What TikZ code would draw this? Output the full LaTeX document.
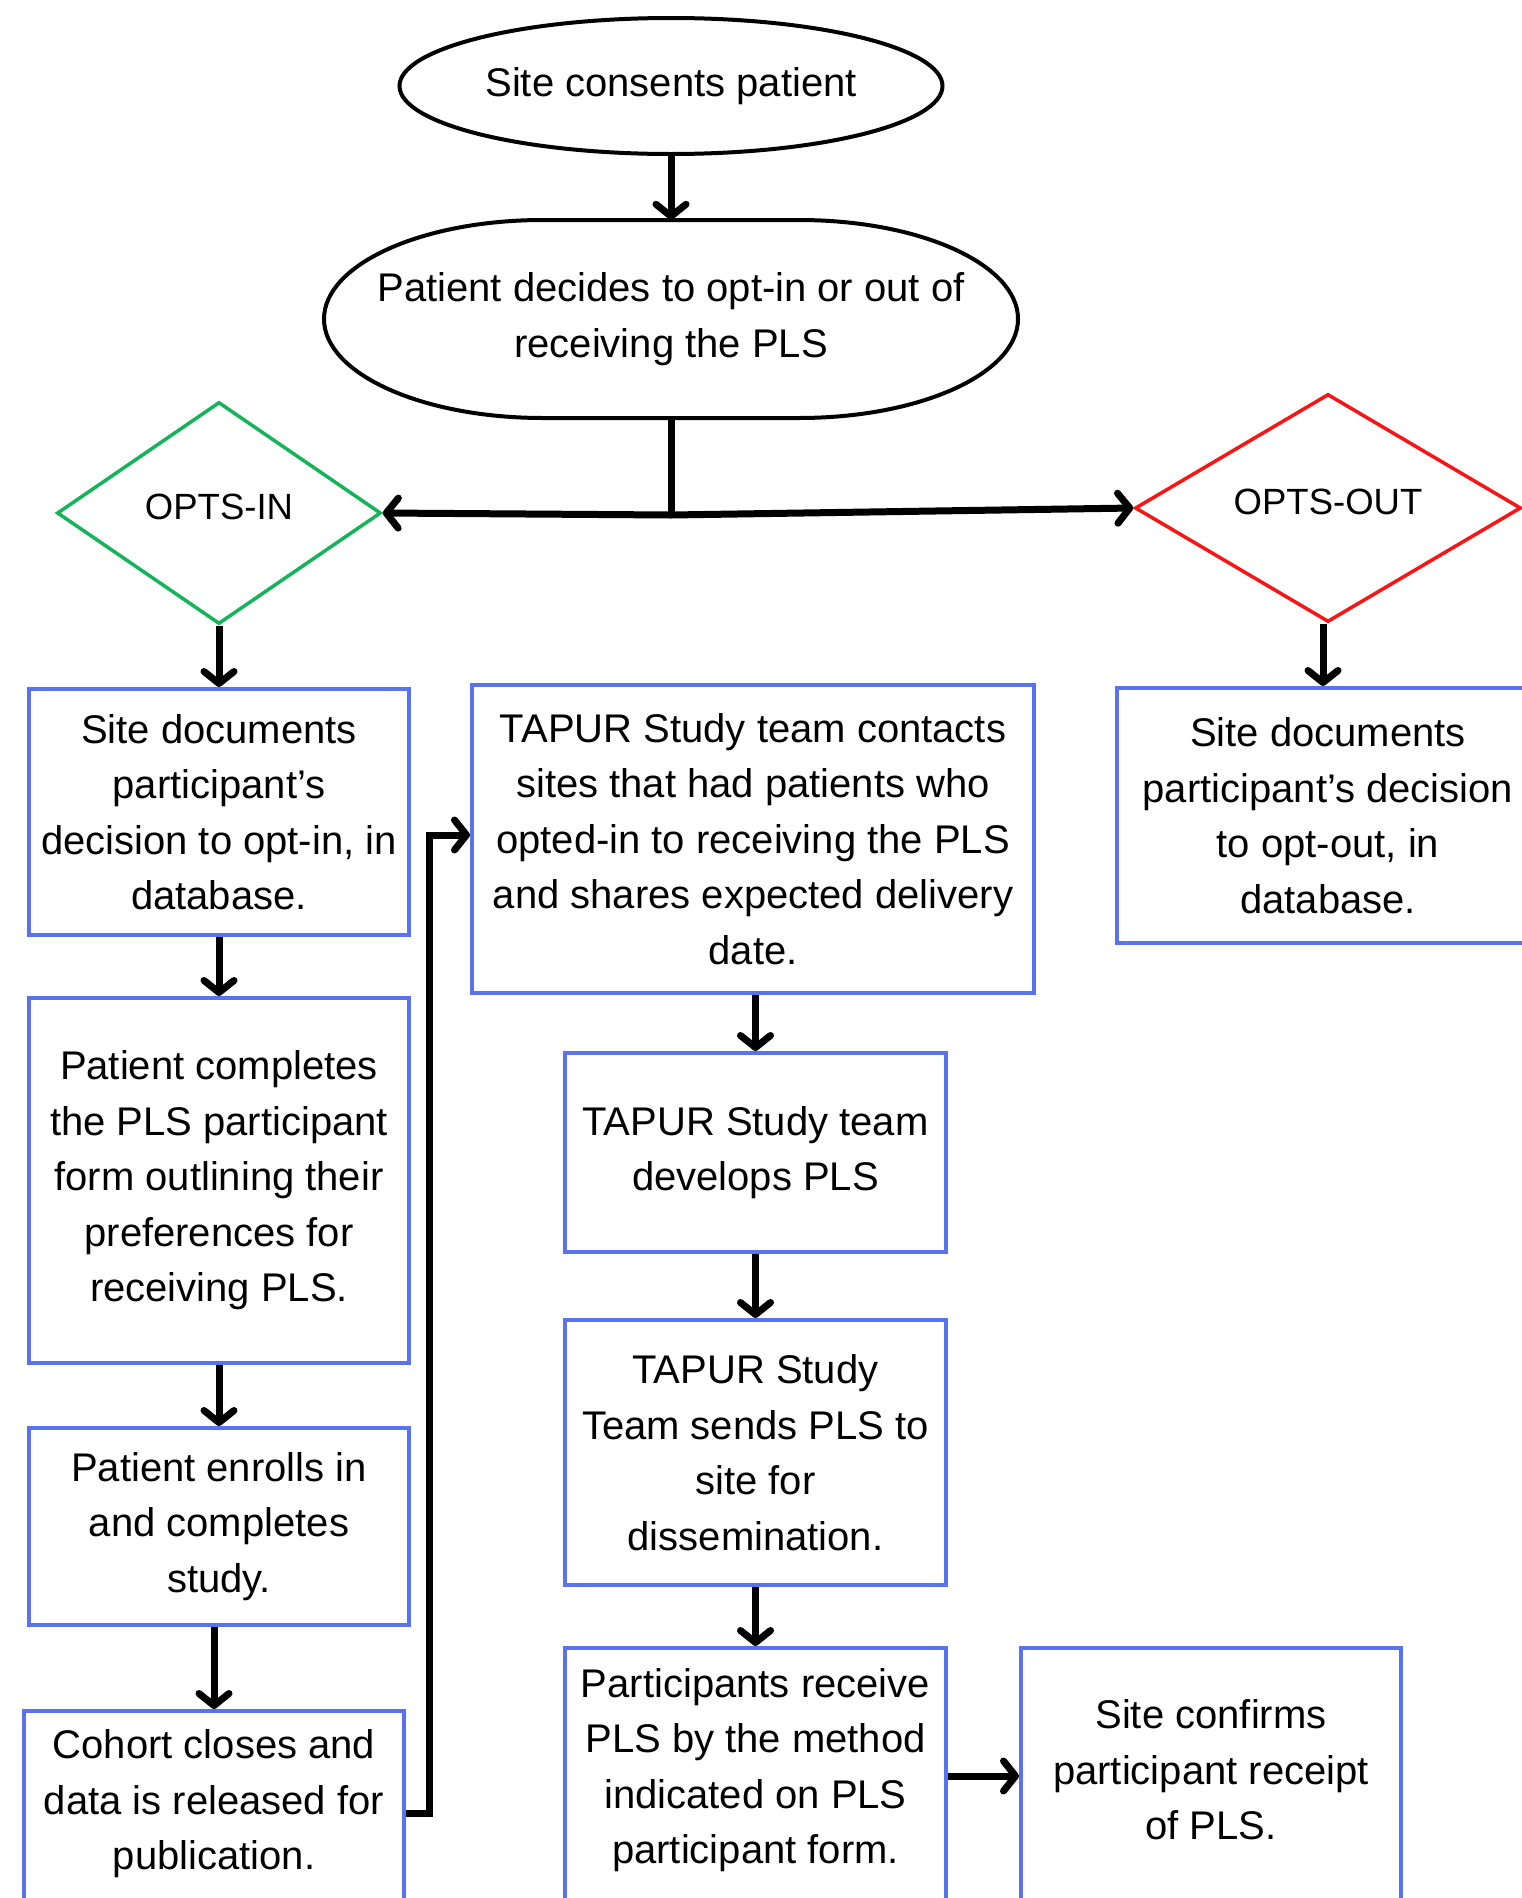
\documentclass[tikz,border=0pt]{standalone}
\usepackage{fontspec}
\setmainfont{Liberation Sans}
\usetikzlibrary{shapes.geometric,arrows.meta}
\definecolor{boxblue}{RGB}{88,114,240}
\definecolor{ingreen}{RGB}{20,180,90}
\definecolor{outred}{RGB}{250,20,20}
\begin{document}
\begin{tikzpicture}[x=1pt,y=-1pt,
  txt/.style={font=\fontsize{40}{55.5}\selectfont, align=center},
  box/.style={txt, draw=boxblue, line width=4pt, rectangle, inner sep=0pt},
  oval/.style={draw=black, line width=4pt, ellipse, inner sep=0pt},
  outline/.style={draw=black, line width=4pt},
  dec/.style={diamond, line width=3.5pt, inner sep=0pt},
  dectxt/.style={font=\fontsize{36.5}{44}\selectfont, yshift=6pt},
  arr/.style={line width=7pt, -{Straight Barb[length=12pt,width=30pt,round]}},
  trunk/.style={line width=7pt}]
\clip (0,0) rectangle (1522,1898);
\fill[white] (0,0) rectangle (1522,1898);

\node[oval, minimum width=543pt, minimum height=136pt,
  label={[txt]center:Site consents patient}] (e1) at (671,86) {};
\node[txt, rectangle, inner sep=0pt, minimum width=693pt, minimum height=198pt] (e2) at (671,319) {Patient decides to opt-in or out of\\receiving the PLS};
\draw[outline] (543,220) -- (799,220) arc[start angle=90, end angle=-90, x radius=219pt, y radius=99pt]
  -- (543,418) arc[start angle=270, end angle=90, x radius=219pt, y radius=99pt] -- cycle;

\node[dec, draw=ingreen, minimum width=324pt, minimum height=222pt,
  label={[dectxt]center:OPTS-IN}] (din) at (219,513) {};
\node[dec, draw=outred, minimum width=386pt, minimum height=228pt,
  label={[dectxt]center:OPTS-OUT}] (dout) at (1328,508) {};

\node[box, minimum width=380pt, minimum height=246pt] (b1) at (219,812) {Site documents\\participant’s\\decision to opt-in, in\\database.};
\node[box, minimum width=380pt, minimum height=365pt] (b2) at (219,1180.5) {Patient completes\\the PLS participant\\form outlining their\\preferences for\\receiving PLS.};
\node[box, minimum width=380pt, minimum height=197pt] (b3) at (219,1526.5) {Patient enrolls in\\and completes\\study.};
\node[box, minimum width=380pt, minimum height=260pt,
  label={[txt,yshift=37pt]center:{Cohort closes and\\data is released for\\publication.}}] (b4) at (214,1841) {};

\node[box, minimum width=562pt, minimum height=308pt] (b5) at (753,839) {TAPUR Study team contacts\\sites that had patients who\\opted-in to receiving the PLS\\and shares expected delivery\\date.};
\node[box, minimum width=381pt, minimum height=199pt] (b6) at (755.5,1152.5) {TAPUR Study team\\develops PLS};
\node[box, minimum width=381pt, minimum height=265pt] (b7) at (755.5,1452.5) {TAPUR Study\\Team sends PLS to\\site for\\dissemination.};
\node[box, minimum width=381pt, minimum height=260pt,
  label={[txt,yshift=8pt]center:{Participants receive\\PLS by the method\\indicated on PLS\\participant form.}}] (b8) at (755.5,1778) {};
\node[box, minimum width=380pt, minimum height=260pt,
  label={[txt,yshift=8pt]center:{Site confirms\\participant receipt\\of PLS.}}] (b9) at (1211,1778) {};

\node[box, minimum width=422pt, minimum height=255pt] (b10) at (1328,815.5) {Site documents\\participant’s decision\\to opt-out, in\\database.};

\coordinate (jn) at (671,515);
\coordinate (k1) at (429,1813);
\coordinate (k2) at (429,835);

\draw[arr] (e1.south) -- (e2.north);
\draw[trunk] (e2.south) -- (jn);
\draw[arr] (jn) -- (din.east);
\draw[arr] (jn) -- (dout.west);
\draw[arr] (din.south) -- (b1.north);
\draw[arr] ([xshift=-5pt]dout.south) -- ([xshift=-5pt]b10.north);
\draw[arr] (b1.south) -- (b2.north);
\draw[arr] (b2.south) -- (b3.north);
\draw[arr] (b3.south -| b4.north) -- (b4.north);
\draw[arr, line join=miter] (k1 -| b4.east) -- (k1) -- (k2) -- (k2 -| b5.west);
\draw[arr] (b5.south -| b6.north) -- (b6.north);
\draw[arr] (b6.south) -- (b7.north);
\draw[arr] (b7.south) -- (b8.north);
\draw[arr] (b8.east |- 0,1776) -- (b9.west |- 0,1776);
\end{tikzpicture}
\end{document}
